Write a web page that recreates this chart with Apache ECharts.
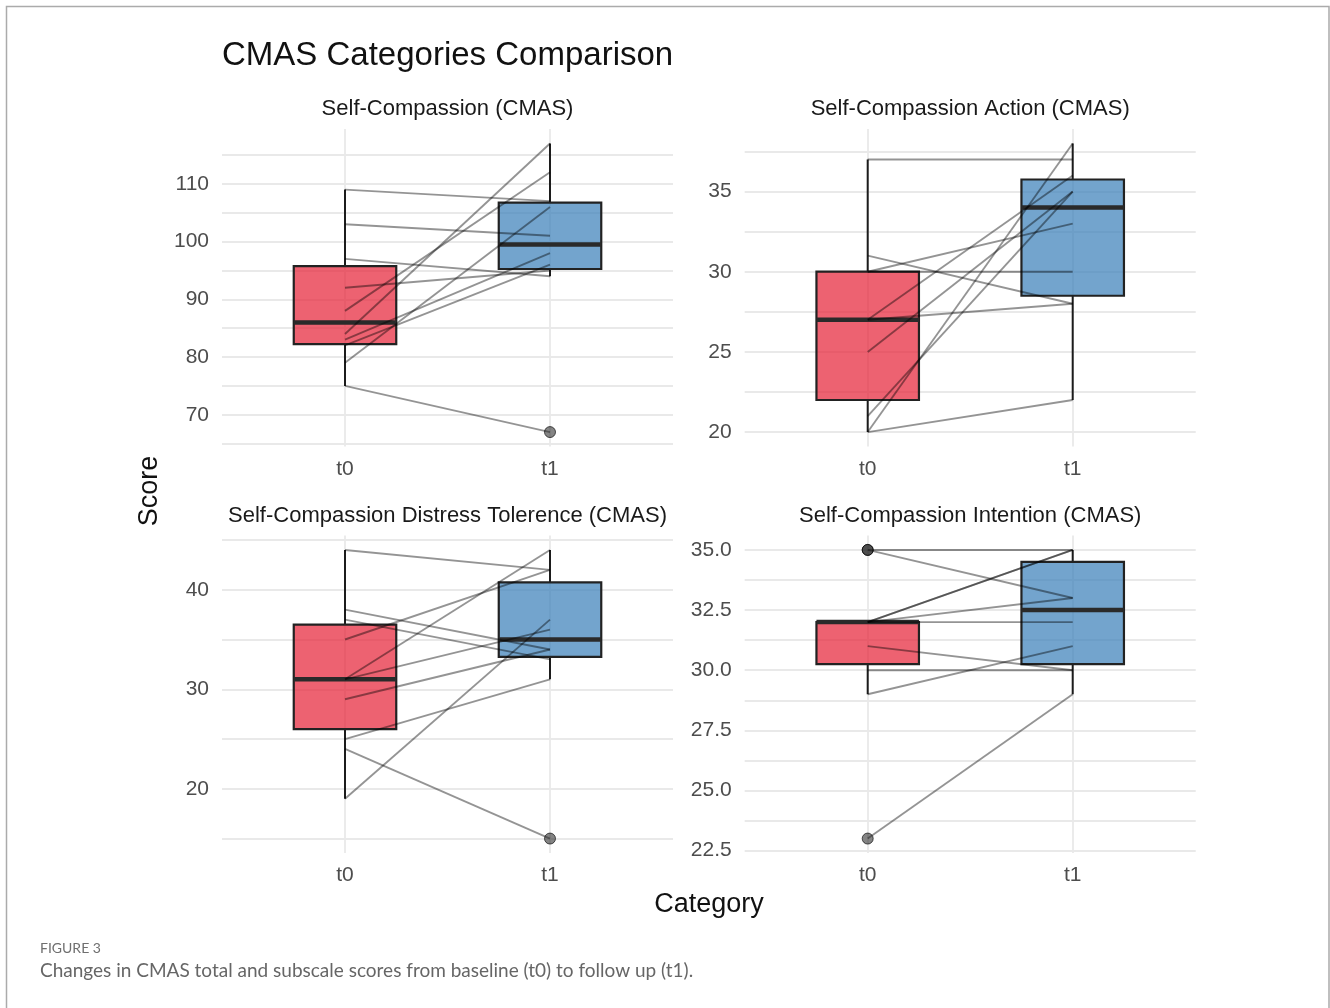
<!DOCTYPE html>
<html>
<head>
<meta charset="utf-8">
<script src="https://cdn.jsdelivr.net/npm/echarts@6/dist/echarts.min.js"></script>
<style>
  html, body { margin: 0; padding: 0; background: #ffffff; }
  #chart { width: 1330px; height: 1008px; }
</style>
</head>
<body>
<div id="chart"></div>
<script>
// ---- data -------------------------------------------------------------
const timepoints = ['t0', 't1'];

const panelTitles = [
  'Self-Compassion (CMAS)',
  'Self-Compassion Action (CMAS)',
  'Self-Compassion Distress Tolerence (CMAS)',
  'Self-Compassion Intention (CMAS)'
];

// paired scores, one entry per participant (baseline, follow up)
const totalT0 = [109, 103, 97, 92, 88, 84, 83, 82, 79, 75];
const totalT1 = [107, 101, 94, 95, 112, 117, 98, 96, 106, 67];

const actionT0 = [37, 31, 30, 30, 27, 27, 25, 21, 20, 20];
const actionT1 = [37, 28, 33, 30, 28, 36, 35, 35, 38, 22];

const distressT0 = [44, 38, 37, 35, 31, 31, 29, 25, 24, 19];
const distressT1 = [42, 34, 33, 42, 44, 36, 34, 31, 15, 37];

const intentionT0 = [35, 35, 32, 32, 32, 32, 31, 30, 29, 23];
const intentionT1 = [35, 33, 35, 35, 32, 33, 30, 30, 31, 29];

// labelled ticks and grid lines per panel
const totalTicks = [70, 80, 90, 100, 110];
const totalGridLines = [65, 70, 75, 80, 85, 90, 95, 100, 105, 110, 115];
const actionTicks = [20, 25, 30, 35];
const actionGridLines = [20, 22.5, 25, 27.5, 30, 32.5, 35, 37.5];
const distressTicks = [20, 30, 40];
const distressGridLines = [15, 20, 25, 30, 35, 40, 45];
const intentionTicks = [22.5, 25, 27.5, 30, 32.5, 35];
const intentionGridLines = [22.5, 23.75, 25, 26.25, 27.5, 28.75, 30, 31.25, 32.5, 33.75, 35];

// ---- statistics -------------------------------------------------------
function quantile(sorted, p) {
  const h = (sorted.length - 1) * p;
  const lo = Math.floor(h);
  const hi = Math.min(lo + 1, sorted.length - 1);
  return sorted[lo] + (h - lo) * (sorted[hi] - sorted[lo]);
}
function boxStats(values) {
  const s = values.slice().sort((a, b) => a - b);
  const q1 = quantile(s, 0.25), med = quantile(s, 0.5), q3 = quantile(s, 0.75);
  const iqr = q3 - q1;
  const inside = s.filter(v => v >= q1 - 1.5 * iqr && v <= q3 + 1.5 * iqr);
  const outliers = s.filter(v => v < q1 - 1.5 * iqr || v > q3 + 1.5 * iqr);
  return { lo: inside[0], q1, med, q3, hi: inside[inside.length - 1], outliers };
}

// ---- layout -----------------------------------------------------------
const FONT = '"Liberation Sans", Arial, Helvetica, sans-serif';
const CAPTION_FONT = 'Lato, "Open Sans", sans-serif';
const PANEL_W = 451, PANEL_H = 317.5;
const panelBoxes = [
  { left: 222,   top: 129 },
  { left: 744.7, top: 129 },
  { left: 222,   top: 535.5 },
  { left: 744.7, top: 535.5 }
];
const panels = [
  { t0: totalT0,     t1: totalT1,     ticks: totalTicks,     grid: totalGridLines,     digits: 0 },
  { t0: actionT0,    t1: actionT1,    ticks: actionTicks,    grid: actionGridLines,    digits: 0 },
  { t0: distressT0,  t1: distressT1,  ticks: distressTicks,  grid: distressGridLines,  digits: 0 },
  { t0: intentionT0, t1: intentionT1, ticks: intentionTicks, grid: intentionGridLines, digits: 1 }
];

const BOX_WIDTH = 0.5;
const boxFills = ['rgba(230,32,52,0.7)', 'rgba(55,126,184,0.7)'];
const GRID_COLOR = '#e9e9e9';

const grids = [], xAxes = [], yAxes = [], series = [], graphics = [];

panels.forEach((p, i) => {
  const all = p.t0.concat(p.t1);
  const dMin = Math.min(...all), dMax = Math.max(...all);
  const pad = (dMax - dMin) * 0.05;

  grids.push({ left: panelBoxes[i].left, top: panelBoxes[i].top, width: PANEL_W, height: PANEL_H });

  xAxes.push({
    type: 'value', gridIndex: i, min: 0.4, max: 2.6,
    axisLine: { show: false },
    axisTick: { show: false, customValues: [1, 2] },
    axisLabel: {
      customValues: [1, 2], margin: 12,
      formatter: v => timepoints[Math.round(v) - 1],
      color: '#4d4d4d', fontSize: 21, fontFamily: FONT
    },
    splitLine: { show: true, lineStyle: { color: GRID_COLOR, width: 1.8 } }
  });

  yAxes.push({
    type: 'value', gridIndex: i, min: dMin - pad, max: dMax + pad,
    axisLine: { show: false },
    axisTick: { show: false, customValues: p.grid },
    axisLabel: {
      customValues: p.ticks, margin: 13,
      formatter: v => v.toFixed(p.digits),
      color: '#4d4d4d', fontSize: 21, fontFamily: FONT
    },
    splitLine: { show: true, lineStyle: { color: GRID_COLOR, width: 1.8 } }
  });

  const stats = [boxStats(p.t0), boxStats(p.t1)];

  // boxes with whiskers and medians
  series.push({
    type: 'custom', xAxisIndex: i, yAxisIndex: i, silent: true,
    encode: { x: 0, y: [1, 2, 3, 4, 5] },
    data: stats.map((s, k) => [k + 1, s.lo, s.q1, s.med, s.q3, s.hi]),
    renderItem: (params, api) => {
      const x = api.value(0);
      const lo = api.coord([x, api.value(1)]);
      const q1 = api.coord([x, api.value(2)]);
      const md = api.coord([x, api.value(3)]);
      const q3 = api.coord([x, api.value(4)]);
      const hi = api.coord([x, api.value(5)]);
      const half = api.size([BOX_WIDTH, 0])[0] / 2;
      const stroke = '#1c1c1c';
      return {
        type: 'group',
        children: [
          { type: 'line', shape: { x1: hi[0], y1: hi[1], x2: q3[0], y2: q3[1] }, style: { stroke, lineWidth: 2 } },
          { type: 'line', shape: { x1: lo[0], y1: lo[1], x2: q1[0], y2: q1[1] }, style: { stroke, lineWidth: 2 } },
          { type: 'rect', shape: { x: q3[0] - half, y: q3[1], width: 2 * half, height: q1[1] - q3[1] },
            style: { fill: boxFills[params.dataIndex], stroke: '#222222', lineWidth: 2.2 } },
          { type: 'line', shape: { x1: md[0] - half, y1: md[1], x2: md[0] + half, y2: md[1] },
            style: { stroke: '#2a2a2a', lineWidth: 4.5 } }
        ]
      };
    }
  });

  // one line per participant
  p.t0.forEach((a, k) => {
    series.push({
      type: 'line', xAxisIndex: i, yAxisIndex: i, silent: true,
      symbol: 'none',
      data: [[1, a], [2, p.t1[k]]],
      lineStyle: { color: 'rgba(0,0,0,0.42)', width: 1.9 },
      z: 3
    });
  });

  // outliers
  const outPts = [];
  stats.forEach((s, k) => s.outliers.forEach(v => outPts.push([k + 1, v])));
  series.push({
    type: 'scatter', xAxisIndex: i, yAxisIndex: i, silent: true,
    data: outPts, symbolSize: 11,
    itemStyle: { color: 'rgba(35,35,35,0.7)', borderColor: 'rgba(0,0,0,0.8)', borderWidth: 1 },
    z: 4
  });

  // facet title
  graphics.push({
    type: 'text', x: panelBoxes[i].left + PANEL_W / 2, y: panelBoxes[i].top - 20,
    style: { text: panelTitles[i], font: '22px ' + FONT, fill: '#1a1a1a',
             textAlign: 'center', textVerticalAlign: 'middle' }
  });
});

graphics.push(
  { type: 'rect', shape: { x: 6.5, y: 6.5, width: 1322.5, height: 1020 },
    style: { fill: 'none', stroke: '#ababab', lineWidth: 1.5 }, silent: true },
  { type: 'text', x: 222, y: 56,
    style: { text: 'CMAS Categories Comparison', font: '33px ' + FONT, fill: '#111111',
             textAlign: 'left', textVerticalAlign: 'middle' } },
  { type: 'text', x: 150, y: 491, rotation: Math.PI / 2,
    style: { text: 'Score', font: '27px ' + FONT, fill: '#111111',
             textAlign: 'center', textVerticalAlign: 'middle' } },
  { type: 'text', x: 709, y: 905,
    style: { text: 'Category', font: '27px ' + FONT, fill: '#111111',
             textAlign: 'center', textVerticalAlign: 'middle' } },
  { type: 'text', x: 40, y: 948,
    style: { text: 'FIGURE 3', font: '14px ' + CAPTION_FONT, fill: '#6f6f6f',
             textAlign: 'left', textVerticalAlign: 'middle' } },
  { type: 'text', x: 40, y: 971,
    style: { text: 'Changes in CMAS total and subscale scores from baseline (t0) to follow up (t1).',
             font: '19px ' + CAPTION_FONT, fill: '#666666',
             textAlign: 'left', textVerticalAlign: 'middle' } }
);

const chart = echarts.init(document.getElementById('chart'), null, { renderer: 'canvas' });
chart.setOption({
  animation: false,
  backgroundColor: '#ffffff',
  grid: grids,
  xAxis: xAxes,
  yAxis: yAxes,
  series: series,
  graphic: { elements: graphics }
});
</script>
</body>
</html>
